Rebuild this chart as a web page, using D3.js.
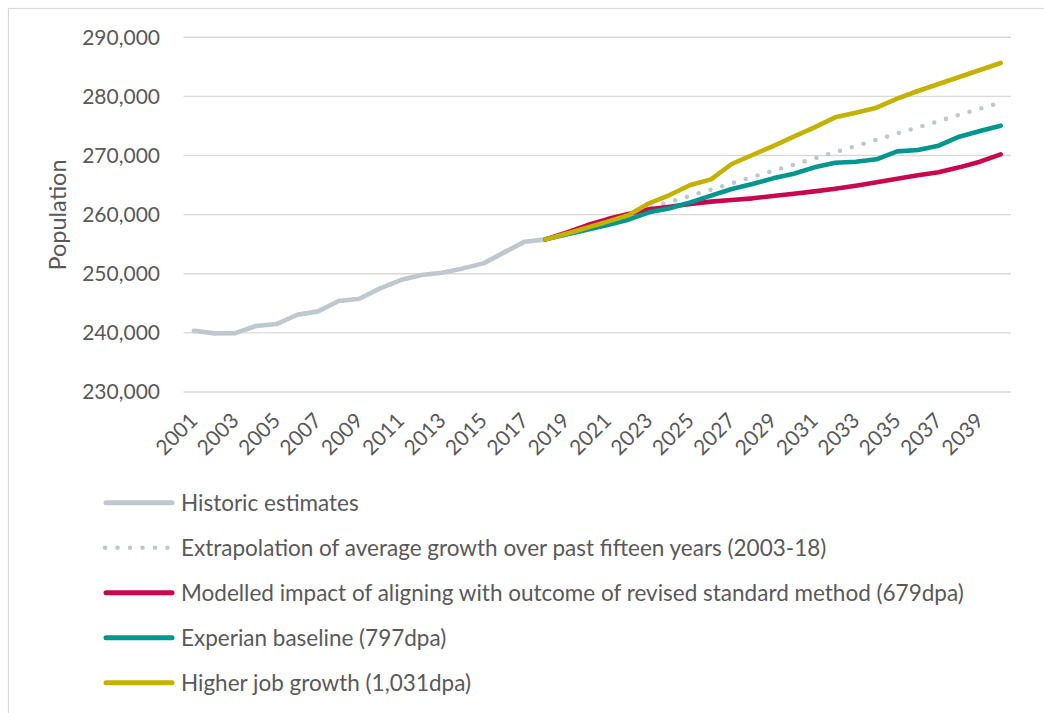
<!DOCTYPE html>
<html>
<head>
<meta charset="utf-8">
<script src="https://cdn.jsdelivr.net/npm/d3@7"></script>
<style>
  html, body { margin: 0; padding: 0; background: #ffffff; }
  svg { display: block; font-family: Lato, "Open Sans", sans-serif; }
</style>
</head>
<body>
<svg id="chart" width="1044" height="713"></svg>
<script>
// Years on the category axis
const years = d3.range(2001, 2041);
const tickYears = d3.range(2001, 2041, 2);
const yTicks = [230000, 240000, 250000, 260000, 270000, 280000, 290000];

// Historic mid-year population estimates, 2001-2018
const historicYears = d3.range(2001, 2019);
const historic = [240370, 239920, 239950, 241160, 241490, 243070, 243640, 245390, 245780,
                  247530, 248940, 249790, 250180, 250910, 251760, 253620, 255430, 255820];

// Projection years, 2018-2040 (each projection starts from the 2018 estimate)
const projYears = d3.range(2018, 2041);
const extrapolation = [255820, 256870, 257920, 258980, 260030, 261080, 262140, 263190, 264240,
                       265300, 266350, 267400, 268450, 269510, 270560, 271610, 272670, 273720,
                       274770, 275820, 276880, 277930, 278980];
const standardMethod = [255820, 256950, 258200, 259250, 260100, 260900, 261350, 261800, 262200,
                        262480, 262760, 263150, 263550, 263940, 264390, 264900, 265470, 266090,
                        266650, 267160, 268000, 268960, 270200];
const experian = [255820, 256650, 257450, 258250, 259150, 260390, 261070, 262080, 263210,
                  264340, 265180, 266140, 266930, 268000, 268790, 268960, 269360, 270710,
                  270940, 271670, 273190, 274150, 275050];
const higherJobs = [255820, 256770, 257780, 258820, 259900, 261910, 263320, 265010, 265970,
                    268570, 270090, 271610, 273190, 274770, 276460, 277250, 278100, 279620,
                    280920, 282100, 283290, 284470, 285660];

const seriesNames = [
  "Historic estimates",
  "Extrapolation of average growth over past fifteen years (2003-18)",
  "Modelled impact of aligning with outcome of revised standard method (679dpa)",
  "Experian baseline (797dpa)",
  "Higher job growth (1,031dpa)"
];
const seriesColors = ["#BEC8CE", "#BEC8CE", "#C8074F", "#009690", "#C4B100"];

const series = [
  { name: seriesNames[0], color: seriesColors[0], dotted: false, years: historicYears, values: historic },
  { name: seriesNames[1], color: seriesColors[1], dotted: true,  years: projYears, values: extrapolation },
  { name: seriesNames[2], color: seriesColors[2], dotted: false, years: projYears, values: standardMethod },
  { name: seriesNames[3], color: seriesColors[3], dotted: false, years: projYears, values: experian },
  { name: seriesNames[4], color: seriesColors[4], dotted: false, years: projYears, values: higherJobs }
];

const svg = d3.select("#chart");
const textColor = "#595959";

// Outer frame of the chart area
svg.append("rect")
  .attr("x", 8.5).attr("y", 8.5)
  .attr("width", 1100).attr("height", 800)
  .attr("fill", "none")
  .attr("stroke", "#D9D9D9")
  .attr("stroke-width", 1.2);

const plot = { left: 183.5, right: 1011, top: 37.3, bottom: 392 };

const x = d3.scaleBand().domain(years).range([plot.left, plot.right]);
const xc = d => x(d) + x.bandwidth() / 2;
const y = d3.scaleLinear().domain([230000, 290000]).range([plot.bottom, plot.top]);

// Horizontal gridlines
svg.append("g")
  .selectAll("line")
  .data(yTicks)
  .join("line")
  .attr("x1", plot.left).attr("x2", plot.right)
  .attr("y1", d => y(d)).attr("y2", d => y(d))
  .attr("stroke", "#D9D9D9")
  .attr("stroke-width", 1.4);

// Y axis labels
const fmt = d3.format(",");
const yAxis = d3.axisLeft(y).tickValues(yTicks).tickFormat(fmt).tickSize(0).tickPadding(0);
const yg = svg.append("g").attr("transform", "translate(160,0)").call(yAxis);
yg.select(".domain").remove();
yg.selectAll("text")
  .attr("fill", textColor)
  .attr("font-size", 21)
  .attr("font-family", "Lato, sans-serif");

// X axis labels, every second year, rotated
const xAxis = d3.axisBottom(x).tickValues(tickYears).tickSize(0).tickPadding(0);
const xg = svg.append("g").attr("transform", `translate(0,${plot.bottom})`).call(xAxis);
xg.select(".domain").remove();
xg.selectAll("text")
  .attr("fill", textColor)
  .attr("font-size", 21)
  .attr("font-family", "Lato, sans-serif")
  .attr("text-anchor", "end")
  .attr("dy", null)
  .attr("y", 0)
  .attr("transform", "translate(5,30) rotate(-45)");

// Y axis title
svg.append("text")
  .attr("transform", "translate(66,215) rotate(-90)")
  .attr("text-anchor", "middle")
  .attr("fill", textColor)
  .attr("font-size", 23.5)
  .text("Population");

// Lines
const line = d3.line()
  .x(d => xc(d[0]))
  .y(d => y(d[1]));

svg.append("g")
  .selectAll("path")
  .data(series)
  .join("path")
  .attr("d", s => line(s.years.map((yr, i) => [yr, s.values[i]])))
  .attr("fill", "none")
  .attr("stroke", s => s.color)
  .attr("stroke-width", s => s.dotted ? 4.6 : 4.6)
  .attr("stroke-linecap", "round")
  .attr("stroke-linejoin", "round")
  .attr("stroke-dasharray", s => s.dotted ? "0 12.3" : null);

// Legend
const legend = svg.append("g");
const rows = legend.selectAll("g")
  .data(series)
  .join("g")
  .attr("transform", (d, i) => `translate(0,${502.7 + i * 45})`);

rows.append("line")
  .attr("x1", d => d.dotted ? 105 : 106).attr("x2", 172)
  .attr("y1", 0).attr("y2", 0)
  .attr("stroke", d => d.color)
  .attr("stroke-width", d => d.dotted ? 4.6 : 5)
  .attr("stroke-linecap", "round")
  .attr("stroke-dasharray", d => d.dotted ? "0 12.5" : null);

rows.append("text")
  .attr("x", 181)
  .attr("y", 0)
  .attr("dy", "0.36em")
  .attr("fill", textColor)
  .attr("font-size", 22.5)
  .text(d => d.name);
</script>
</body>
</html>
